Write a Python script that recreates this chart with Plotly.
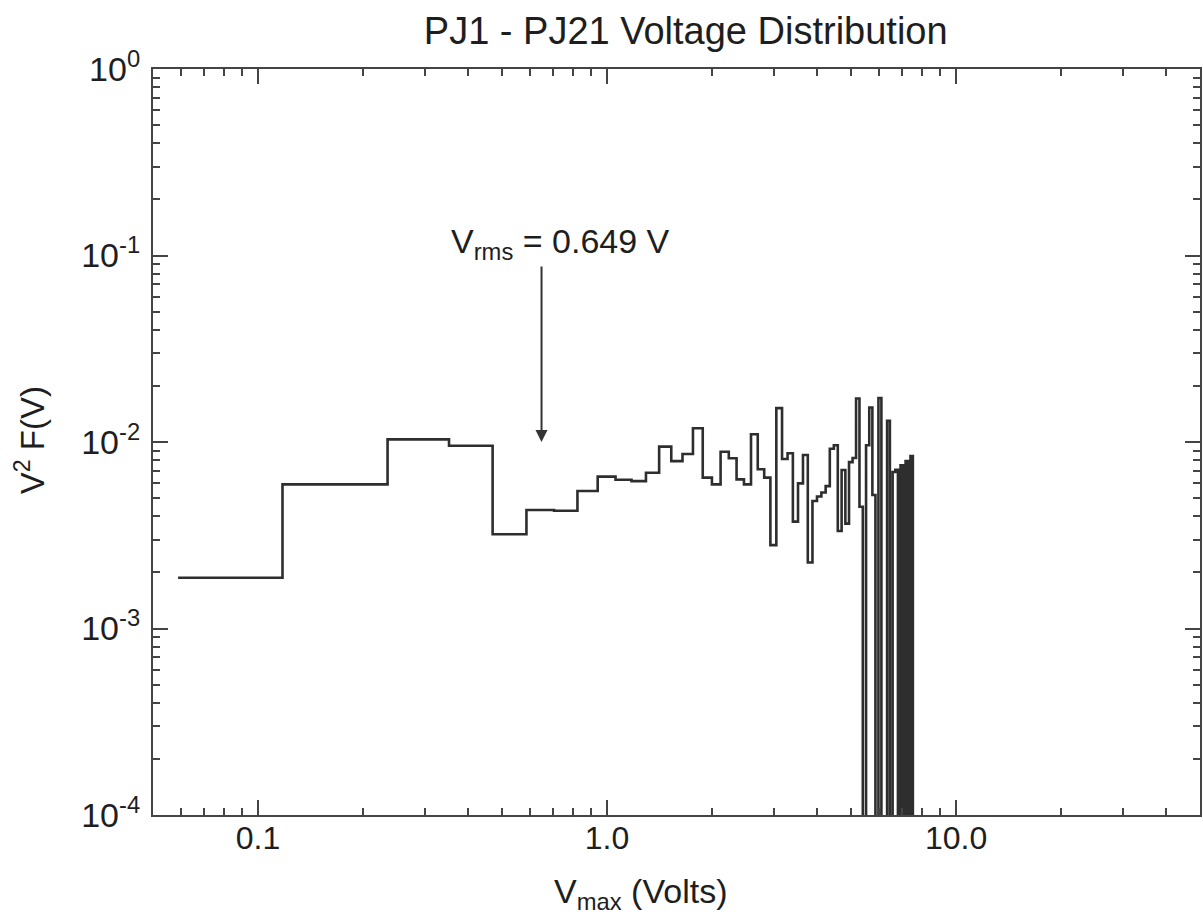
import plotly.graph_objects as go
import math

# Histogram points (V, volts) and values V^2 F(V); 0 = empty bin (drawn to the bottom)
v_points = [0.059, 0.176, 0.294, 0.411, 0.529, 0.646, 0.764, 0.881, 0.999, 1.116,
            1.234, 1.351, 1.469, 1.586, 1.704, 1.821, 1.939, 2.056, 2.174, 2.291,
            2.409, 2.526, 2.644, 2.761, 2.879, 2.996, 3.114, 3.231, 3.349, 3.466,
            3.584, 3.701, 3.819, 3.936, 4.054, 4.171, 4.289, 4.406, 4.524, 4.641,
            4.759, 4.876, 4.994, 5.111, 5.229, 5.346, 5.464, 5.581, 5.699, 5.816,
            5.934, 6.051, 6.169, 6.286, 6.404, 6.521, 6.639, 6.756, 6.874, 6.991,
            7.109, 7.226, 7.344, 7.461, 7.579]
f_values = [0.00187, 0.00593, 0.01033, 0.00955, 0.00320, 0.00432, 0.00428, 0.00546, 0.00652, 0.00627,
            0.00617, 0.00684, 0.00944, 0.00790, 0.00863, 0.01184, 0.00644, 0.00593, 0.00887, 0.00818,
            0.00630, 0.00593, 0.01100, 0.00714, 0.00644, 0.00280, 0.01520, 0.00810, 0.00870, 0.00374,
            0.00600, 0.00852, 0.00226, 0.00483, 0.00510, 0.00536, 0.00580, 0.00920, 0.00960, 0.00333,
            0.00708, 0.00365, 0.00780, 0.00820, 0.01710, 0.00450, 0.0, 0.00960, 0.01530, 0.00520,
            0.0, 0.01720, 0.0, 0.0, 0.01300, 0.0, 0.00690, 0.00710, 0.0, 0.00750,
            0.0, 0.00790, 0.0, 0.00840, 0.0]

v_rms = 0.649
x_ticks = [0.1, 1.0, 10.0]
x_tick_text = ["0.1", "1.0", "10.0"]
y_ticks = [1e-4, 1e-3, 1e-2, 1e-1, 1e0]
y_tick_text = ["10<sup>-4</sup>", "10<sup>-3</sup>", "10<sup>-2</sup>", "10<sup>-1</sup>", "10<sup>0</sup>"]

FLOOR = 1e-7  # empty bins drop below the axis (clipped)

# build step outline: horizontal at each point's value, steps at midpoints
xs = [v_points[0]]
ys = [f_values[0] if f_values[0] > 0 else FLOOR]
for i in range(1, len(v_points)):
    edge = 0.5 * (v_points[i - 1] + v_points[i])
    xs.append(edge)
    ys.append(f_values[i] if f_values[i] > 0 else FLOOR)
xs.append(v_points[-1])
ys.append(ys[-1])

fig = go.Figure()
fig.add_trace(go.Scatter(x=xs, y=ys, mode="lines", line_shape="hv",
                         line=dict(color="#2e2e2e", width=2.6), showlegend=False,
                         hoverinfo="skip"))

FONT = "Liberation Sans, Arial, Helvetica, sans-serif"
AX = "#444444"
TXT = "#1e1e1e"

x_minor = [m * 10 ** d for d in range(-2, 2) for m in range(2, 10)]
y_minor = [m * 10 ** d for d in range(-4, 0) for m in range(2, 10)]

fig.update_layout(
    width=1203, height=924,
    margin=dict(l=153, r=1, t=69, b=109),
    paper_bgcolor="white", plot_bgcolor="white",
    font=dict(family=FONT, color=TXT, size=32),
    title=dict(text="PJ1 - PJ21 Voltage Distribution", x=0.57, xanchor="center",
               y=1 - 31 / 924, yanchor="middle",
               font=dict(family=FONT, size=38, color=TXT)),
    xaxis=dict(type="log", range=[math.log10(0.05), math.log10(50)],
               tickmode="array", tickvals=x_ticks, ticktext=x_tick_text,
               ticks="inside", ticklen=15, tickwidth=2, tickcolor=AX,
               showline=True, linecolor=AX, linewidth=2, mirror="allticks",
               showgrid=False, zeroline=False, ticklabelstandoff=-6,
               tickfont=dict(family=FONT, size=32, color=TXT),
               minor=dict(tickmode="array", tickvals=x_minor, ticks="inside",
                          ticklen=7, tickwidth=2, tickcolor=AX, showgrid=False)),
    yaxis=dict(type="log", range=[-4, 0],
               tickmode="array", tickvals=y_ticks, ticktext=y_tick_text,
               ticks="inside", ticklen=15, tickwidth=2, tickcolor=AX,
               showline=True, linecolor=AX, linewidth=2, mirror="allticks",
               showgrid=False, zeroline=False, ticklabelstandoff=4,
               tickfont=dict(family=FONT, size=34, color=TXT),
               minor=dict(tickmode="array", tickvals=y_minor, ticks="inside",
                          ticklen=7, tickwidth=2, tickcolor=AX, showgrid=False)),
    annotations=[
        dict(text="V<sub>max</sub> (Volts)", xref="paper", yref="paper",
             x=(641 - 153) / 1049, y=(815 - 893) / 746, xanchor="center", yanchor="middle",
             showarrow=False, font=dict(family=FONT, size=34, color=TXT)),
        dict(text="V<sup>2</sup> F(V)", xref="paper", yref="paper",
             x=(30 - 153) / 1049, y=(815 - 440) / 746, xanchor="center", yanchor="middle",
             textangle=-90, showarrow=False, font=dict(family=FONT, size=33, color=TXT)),
        dict(text="V<sub>rms</sub> = 0.649 V", xref="x", yref="y",
             x=math.log10(v_rms) + (562 - 543) / 350, y=-(243 - 69) / 186.5,
             xanchor="center", yanchor="middle", showarrow=False,
             font=dict(family=FONT, size=34, color=TXT)),
        dict(text="", xref="x", yref="y", x=math.log10(v_rms), y=-2.0,
             ax=0, ay=-177, axref="pixel", ayref="pixel", showarrow=True,
             arrowhead=2, arrowsize=1.2, arrowwidth=2, arrowcolor="#333333"),
    ],
)

fig.write_html("out.html")
